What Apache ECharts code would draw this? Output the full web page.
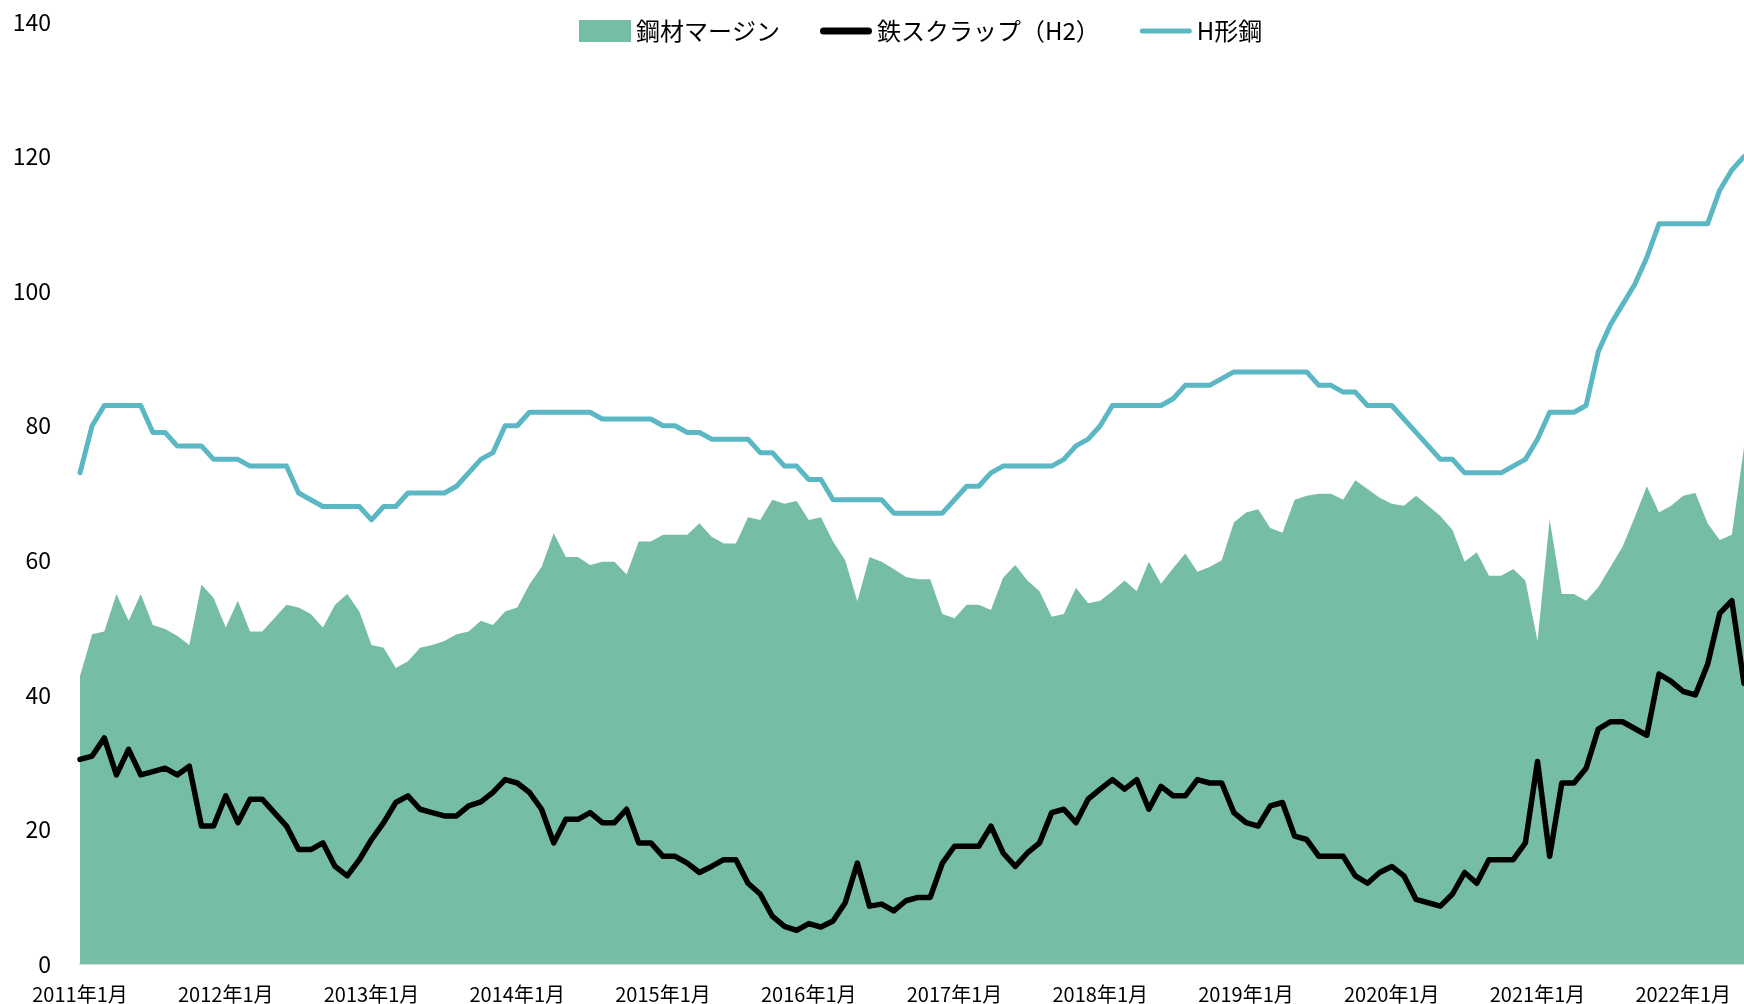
<!DOCTYPE html>
<html>
<head>
<meta charset="utf-8">
<script src="https://cdn.jsdelivr.net/npm/echarts@6/dist/echarts.min.js"></script>
<style>
  html, body { margin: 0; padding: 0; background: #fff; }
  #main { width: 1744px; height: 1004px; }
</style>
</head>
<body>
<div id="main"></div>
<script>
// 月次カテゴリ 2011年1月〜2022年6月
var categories = [];
for (var y = 2011; y <= 2022; y++) {
  for (var m = 1; m <= 12; m++) {
    if (y === 2022 && m > 6) break;
    categories.push(y + "年" + m + "月");
  }
}

// 鋼材マージン
var margin = [
  42.8, 49, 49.4, 55, 51, 55, 50.4, 49.8, 48.8, 47.4, 56.4, 54.4,
  50, 54, 49.4, 49.4, 51.4, 53.4, 53, 52, 50, 53.4, 55, 52.4,
  47.4, 47, 44, 45, 47, 47.4, 48, 49, 49.4, 51, 50.4, 52.4,
  53, 56.4, 59, 64, 60.5, 60.5, 59.3, 59.8, 59.8, 57.9, 62.8, 62.8,
  63.8, 63.8, 63.8, 65.5, 63.5, 62.5, 62.5, 66.4, 66, 69, 68.4, 68.8,
  66, 66.4, 62.8, 60, 53.9, 60.5, 59.8, 58.7, 57.5, 57.2, 57.2, 52,
  51.4, 53.4, 53.4, 52.6, 57.4, 59.3, 57, 55.4, 51.6, 52, 55.9, 53.6,
  54, 55.4, 57, 55.4, 59.8, 56.5, 58.8, 61, 58.3, 59, 60, 65.6,
  67.1, 67.6, 64.8, 64.1, 69, 69.6, 69.9, 69.9, 69, 71.9, 70.6, 69.3,
  68.4, 68.1, 69.6, 68.1, 66.6, 64.5, 59.8, 61.2, 57.7, 57.7, 58.7, 57,
  48, 66.1, 55, 55, 54, 56, 59, 62, 66.4, 71, 67.1, 68.1,
  69.6, 70, 65.5, 63, 63.8, 76.8
];

// 鉄スクラップ（H2）
var scrap = [
  30.4, 30.9, 33.6, 28.1, 31.9, 28.1, 28.6, 29.1, 28.1, 29.4, 20.5, 20.5,
  25, 21, 24.5, 24.5, 22.5, 20.5, 17, 17, 18, 14.5, 13.1, 15.5,
  18.5, 21, 24, 25, 23, 22.5, 22, 22, 23.5, 24.1, 25.5, 27.4,
  26.9, 25.5, 23, 18, 21.5, 21.5, 22.5, 21, 21, 23, 18, 18,
  16, 16, 15, 13.6, 14.5, 15.5, 15.5, 12, 10.4, 7.1, 5.6, 5,
  6, 5.5, 6.4, 9.1, 15, 8.6, 8.9, 7.9, 9.4, 9.9, 9.9, 15,
  17.5, 17.5, 17.5, 20.5, 16.5, 14.5, 16.5, 18, 22.5, 23, 21, 24.5,
  26, 27.4, 26, 27.4, 23, 26.4, 25, 25, 27.4, 26.9, 26.9, 22.5,
  21, 20.5, 23.5, 24, 19, 18.5, 16, 16, 16, 13.1, 12, 13.6,
  14.5, 13.1, 9.6, 9.1, 8.6, 10.4, 13.6, 12, 15.5, 15.5, 15.5, 18,
  30.1, 16, 26.9, 26.9, 29.1, 34.9, 36, 36, 35, 34, 43.1, 42,
  40.5, 40, 44.5, 52.1, 54, 41.7
];

// H形鋼
var hBeam = [
  73, 80, 83, 83, 83, 83, 79, 79, 77, 77, 77, 75,
  75, 75, 74, 74, 74, 74, 70, 69, 68, 68, 68, 68,
  66, 68, 68, 70, 70, 70, 70, 71, 73, 75, 76, 80,
  80, 82, 82, 82, 82, 82, 82, 81, 81, 81, 81, 81,
  80, 80, 79, 79, 78, 78, 78, 78, 76, 76, 74, 74,
  72, 72, 69, 69, 69, 69, 69, 67, 67, 67, 67, 67,
  69, 71, 71, 73, 74, 74, 74, 74, 74, 75, 77, 78,
  80, 83, 83, 83, 83, 83, 84, 86, 86, 86, 87, 88,
  88, 88, 88, 88, 88, 88, 86, 86, 85, 85, 83, 83,
  83, 81, 79, 77, 75, 75, 73, 73, 73, 73, 74, 75,
  78, 82, 82, 82, 83, 91, 95, 98, 101, 105, 110, 110,
  110, 110, 110, 115, 118, 120
];

var yTicks = { min: 0, max: 140, interval: 20 };

var font = '"Noto Sans CJK JP", "Noto Sans", sans-serif';

// 凡例用の丸端ライン
var thickLine = "path://M3.5,0H48.5A3.5,3.5,0,0,1,48.5,7H3.5A3.5,3.5,0,0,1,3.5,0Z";
var thinLine = "path://M2.5,0H49.5A2.5,2.5,0,0,1,49.5,5H2.5A2.5,2.5,0,0,1,2.5,0Z";

var chart = echarts.init(document.getElementById("main"));
var options = {
  animation: false,
  backgroundColor: "#fff",
  textStyle: { fontFamily: font },
  legend: {
    top: 14,
    left: 574,
    itemWidth: 52,
    itemHeight: 22,
    itemGap: 40,
    symbolKeepAspect: true,
    textStyle: { fontSize: 24, color: "#000", fontFamily: font },
    data: [
      { name: "鋼材マージン", icon: "rect" },
      { name: "鉄スクラップ（H2）", icon: thickLine },
      { name: "H形鋼", icon: thinLine }
    ]
  },
  grid: { left: 80, right: 0, top: 22, bottom: 40 },
  xAxis: {
    type: "category",
    boundaryGap: false,
    data: categories,
    axisLine: { lineStyle: { color: "#d9d9d9", width: 2 } },
    axisTick: { show: false },
    axisLabel: { interval: 11, fontSize: 20, color: "#000", margin: 20 },
    splitLine: { show: false }
  },
  yAxis: {
    type: "value",
    min: yTicks.min,
    max: yTicks.max,
    interval: yTicks.interval,
    axisLine: { show: false },
    axisTick: { show: false },
    splitLine: { show: false },
    axisLabel: { fontSize: 23, color: "#000", margin: 29 }
  },
  series: [
    {
      name: "鋼材マージン",
      type: "line",
      data: margin,
      symbol: "none",
      itemStyle: { color: "#76bda7" },
      lineStyle: { width: 0 },
      areaStyle: { color: "#76bda7", opacity: 1 },
      z: 1
    },
    {
      name: "鉄スクラップ（H2）",
      type: "line",
      data: scrap,
      symbol: "none",
      itemStyle: { color: "#000" },
      lineStyle: { color: "#000", width: 5.5, cap: "round", join: "round" },
      z: 3
    },
    {
      name: "H形鋼",
      type: "line",
      data: hBeam,
      symbol: "none",
      itemStyle: { color: "#5bb7c4" },
      lineStyle: { color: "#5bb7c4", width: 5, cap: "round", join: "round" },
      z: 2
    }
  ]
};
chart.setOption(options);
</script>
</body>
</html>
